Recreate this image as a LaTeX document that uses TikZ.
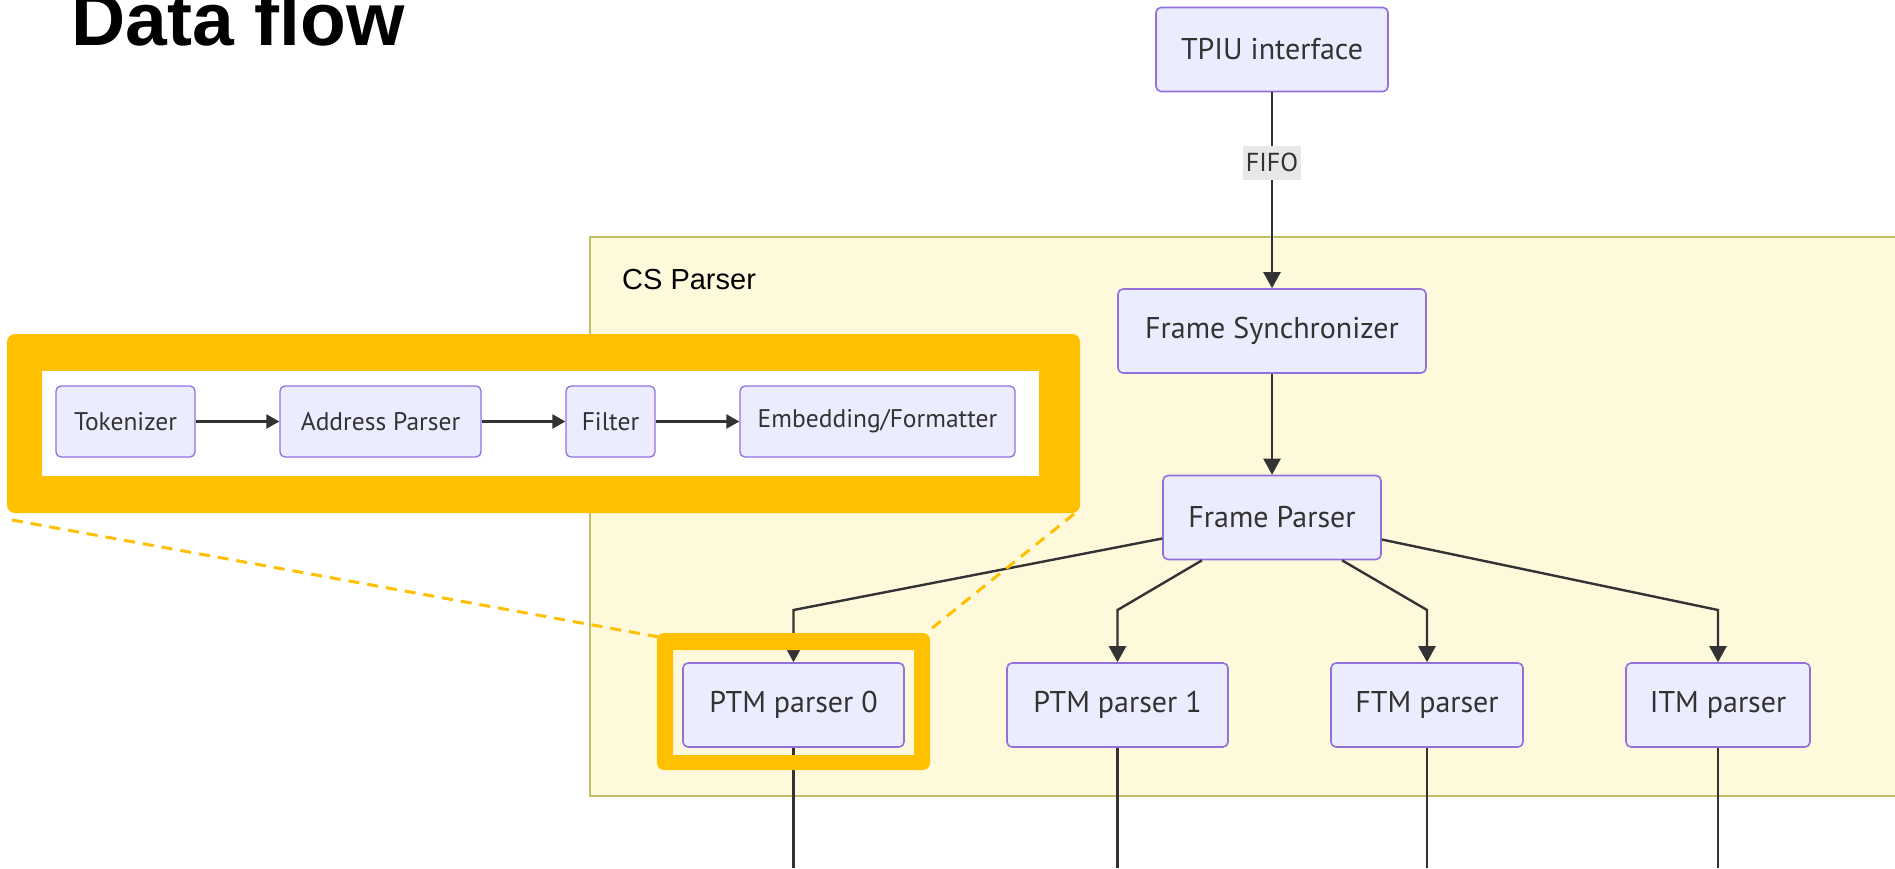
\documentclass[tikz,border=0pt]{standalone}
\usepackage{fontspec}
\usetikzlibrary{arrows.meta}
\newfontfamily\mmfont{PT Sans}
\newfontfamily\hvfont{Liberation Sans}
\definecolor{mmfill}{HTML}{ECECFF}
\definecolor{mmstroke}{HTML}{9370DB}
\definecolor{mmtext}{HTML}{333333}
\definecolor{linkgray}{HTML}{333333}
\definecolor{clusterfill}{HTML}{FFF9DC}
\definecolor{clusterline}{HTML}{C3BF63}
\definecolor{labelbg}{HTML}{E8E8E8}
\definecolor{hlyellow}{HTML}{FFC000}

\begin{document}
\begin{tikzpicture}[x=1pt, y=-1pt]
	\tikzstyle{blockStyle}=[draw=mmstroke, fill=mmfill, text=mmtext, rounded corners=5pt, line width=1.6pt, inner sep=0pt, minimum height=84pt, font=\mmfont\fontsize{30}{32}\selectfont]
	\tikzstyle{smallBlockStyle}=[blockStyle, line width=1.3pt, minimum height=71pt, font=\mmfont\fontsize{25.5}{28}\selectfont]
	\tikzstyle{linkStyle}=[draw=linkgray, line width=2.4pt, -{Triangle[width=17pt, length=16pt]}]
	\tikzstyle{smallLinkStyle}=[draw=linkgray, line width=2.4pt, -{Triangle[width=14pt, length=13pt]}]
	\tikzstyle{lineStyle}=[draw=linkgray, line width=2.4pt]
	\tikzstyle{labelStyle}=[fill=labelbg, text=mmtext, inner sep=0pt, minimum width=58pt, minimum height=34pt, font=\mmfont\fontsize{26}{28}\selectfont]
	\useasboundingbox (0,0) rectangle (1895,868);
	\fill[white] (0,0) rectangle (1895,868);
	\node[anchor=base west, inner sep=0pt, font=\hvfont\bfseries\fontsize{75}{80}\selectfont] (title) at (71,45) {Data flow};
	\draw[draw=clusterline, fill=clusterfill, line width=2.5pt] (590,237) rectangle (1905,796);
	\node[anchor=base west, inner sep=0pt, font=\hvfont\fontsize{29}{32}\selectfont] (cslabel) at (622,289) {CS Parser};
	\node[blockStyle, minimum width=232pt] (tpiu) at (1272,49.5) {TPIU interface};
	\node[blockStyle, minimum width=308pt] (fsync) at (1272,331) {Frame Synchronizer};
	\node[blockStyle, minimum width=218pt] (fparser) at (1272,517.5) {Frame Parser};
	\node[blockStyle, minimum width=221pt] (ptm0) at (793.5,705) {PTM parser 0};
	\node[blockStyle, minimum width=221pt] (ptm1) at (1117.5,705) {PTM parser 1};
	\node[blockStyle, minimum width=192pt] (ftm) at (1427,705) {FTM parser};
	\node[blockStyle, minimum width=184pt] (itm) at (1718,705) {ITM parser};
	\coordinate (split) at (0,610);
	\coordinate (floor) at (0,868);
	\draw[linkStyle] (tpiu) -- node[labelStyle, pos=0.36] (fifo) {FIFO} (fsync);
	\draw[linkStyle] (fsync) -- (fparser);
	\draw[linkStyle] ([yshift=-21pt]fparser.west) -- (ptm0.north |- split) -- (ptm0);
	\draw[linkStyle] ([xshift=-70pt]fparser.south) -- (ptm1.north |- split) -- (ptm1);
	\draw[linkStyle] ([xshift=70pt]fparser.south) -- (ftm.north |- split) -- (ftm);
	\draw[linkStyle] ([yshift=-22pt]fparser.east) -- (itm.north |- split) -- (itm);
	\foreach \n in {ptm0,ptm1,ftm,itm}
		\draw[lineStyle] (\n) -- (\n.south |- floor);
	\fill[hlyellow, rounded corners=8pt] (7,334) rectangle (1080,513);
	\fill[white] (42,371) rectangle (1039,476);
	\node[smallBlockStyle, minimum width=139pt] (tok) at (125.5,421.5) {Tokenizer};
	\node[smallBlockStyle, minimum width=201pt] (addr) at (380.5,421.5) {Address Parser};
	\node[smallBlockStyle, minimum width=89pt] (filt) at (610.5,421.5) {Filter};
	\node[smallBlockStyle, minimum width=275pt] (embed) at (877.5,421.5) {Embedding/Formatter};
	\draw[smallLinkStyle] (tok) -- (addr);
	\draw[smallLinkStyle] (addr) -- (filt);
	\draw[smallLinkStyle] (filt) -- (embed);
	\fill[hlyellow, even odd rule] [rounded corners=7pt] (657,633) rectangle (930,770) [sharp corners] (673,650) rectangle (914,755);
	\coordinate (zoomsw) at (12,520);
	\coordinate (zoomse) at (1074,514);
	\coordinate (ptmnw) at (659,637);
	\coordinate (ptmne) at (926,633);
	\draw[hlyellow, line width=3pt, dash pattern=on 11pt off 8pt] (zoomsw) -- (ptmnw);
	\draw[hlyellow, line width=3pt, dash pattern=on 11pt off 8pt] (zoomse) -- (ptmne);
\end{tikzpicture}
\end{document}
